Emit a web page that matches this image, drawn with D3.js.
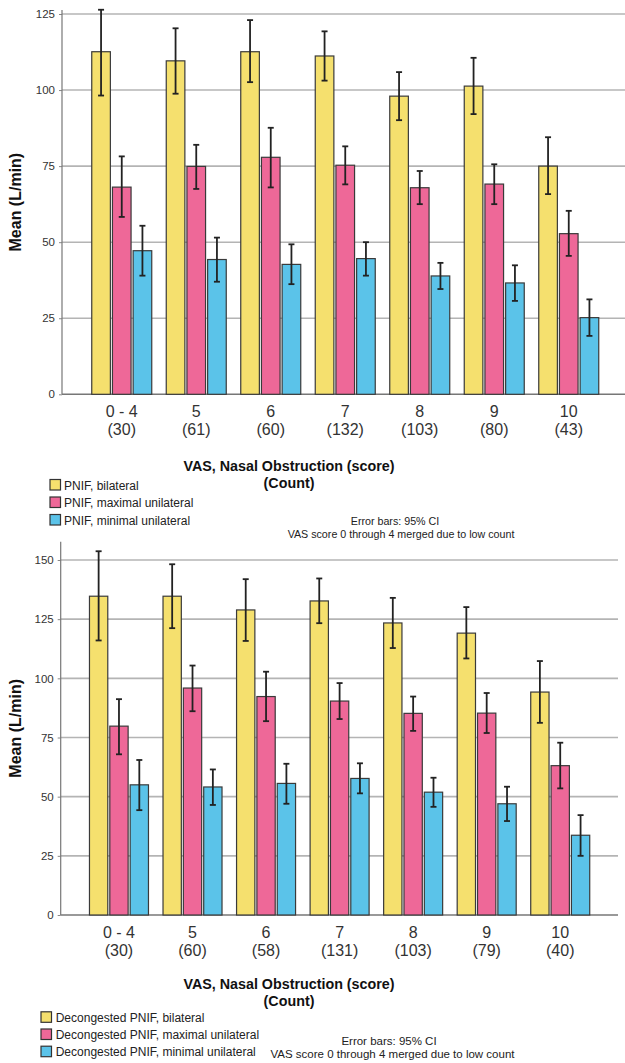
<!DOCTYPE html>
<html>
<head>
<meta charset="utf-8">
<script src="https://cdn.jsdelivr.net/npm/d3@7"></script>
<style>
  body { margin: 0; background: #fff; }
  svg { font-family: "Liberation Sans", Arial, sans-serif; display: block; }
</style>
</head>
<body>
<div id="canvas"></div>
<script>
// categories and counts
var categories = ["0 - 4", "5", "6", "7", "8", "9", "10"];
var countsPnif = [30, 61, 60, 132, 103, 80, 43];
var countsDecon = [30, 60, 58, 131, 103, 79, 40];

var seriesPnif = ["PNIF, bilateral", "PNIF, maximal unilateral", "PNIF, minimal unilateral"];
var seriesDecon = ["Decongested PNIF, bilateral", "Decongested PNIF, maximal unilateral", "Decongested PNIF, minimal unilateral"];

// top chart: means and 95% CI
var pnifBilateral   = [112.6, 109.6, 112.6, 111.2, 98.0, 101.3, 75.0];
var pnifBilateralLo = [98.2, 98.8, 102.6, 103.1, 90.1, 92.1, 65.8];
var pnifBilateralHi = [126.4, 120.3, 123.0, 119.3, 105.9, 110.6, 84.5];
var pnifMaximal     = [68.1, 74.9, 77.9, 75.3, 67.9, 69.1, 52.8];
var pnifMaximalLo   = [58.3, 67.5, 68.0, 69.0, 62.5, 62.5, 45.5];
var pnifMaximalHi   = [78.2, 82.0, 87.6, 81.5, 73.4, 75.6, 60.3];
var pnifMinimal     = [47.2, 44.3, 42.7, 44.6, 38.9, 36.6, 25.2];
var pnifMinimalLo   = [39.0, 37.0, 36.2, 39.0, 34.6, 30.7, 19.2];
var pnifMinimalHi   = [55.4, 51.5, 49.3, 50.0, 43.2, 42.4, 31.2];

// bottom chart: means and 95% CI
var deconBilateral   = [134.7, 134.7, 128.9, 132.7, 123.4, 119.1, 94.2];
var deconBilateralLo = [116.0, 121.2, 115.8, 123.3, 112.8, 108.4, 81.2];
var deconBilateralHi = [153.7, 148.2, 141.9, 142.2, 134.0, 130.1, 107.3];
var deconMaximal     = [79.8, 95.9, 92.3, 90.4, 85.2, 85.3, 63.1];
var deconMaximalLo   = [67.9, 86.1, 81.9, 82.8, 77.8, 76.9, 53.5];
var deconMaximalHi   = [91.2, 105.4, 102.8, 98.0, 92.3, 93.8, 72.8];
var deconMinimal     = [55.0, 54.1, 55.6, 57.7, 51.9, 47.0, 33.7];
var deconMinimalLo   = [44.3, 46.5, 47.0, 51.4, 45.7, 39.7, 25.0];
var deconMinimalHi   = [65.5, 61.5, 63.9, 64.1, 58.0, 54.2, 42.2];

var yTicksPnif = [0, 25, 50, 75, 100, 125];
var yTicksDecon = [0, 25, 50, 75, 100, 125, 150];

var colors = ["#f5e06e", "#ee6898", "#5bc3e9"];

var svg = d3.select("#canvas").append("svg")
    .attr("width", 625)
    .attr("height", 1063);

function buildChart(cfg) {
  var g = svg.append("g");

  var y = d3.scaleLinear()
      .domain([0, d3.max(cfg.ticks)])
      .range([cfg.base, cfg.topTick]);

  var x0 = d3.scaleBand()
      .domain(categories)
      .range([cfg.bandStart, cfg.bandEnd]);

  var x1 = d3.scaleBand()
      .domain([0, 1, 2])
      .range([0, cfg.groupWidth])
      .paddingInner(0.1);

  var off = (x0.bandwidth() - cfg.groupWidth) / 2;

  // gridlines
  g.selectAll("line.grid")
      .data(cfg.ticks.filter(function(t) { return t > 0; }))
    .enter().append("line")
      .attr("class", "grid")
      .attr("x1", cfg.axisX)
      .attr("x2", cfg.gridRight)
      .attr("y1", function(d) { return y(d); })
      .attr("y2", function(d) { return y(d); })
      .attr("stroke", "#b4b4b4")
      .attr("stroke-width", 1.6);

  // y axis
  var yAxis = d3.axisLeft(y)
      .tickValues(cfg.ticks)
      .tickSize(3)
      .tickPadding(4)
      .tickFormat(d3.format("d"));

  var ax = g.append("g")
      .attr("transform", "translate(" + cfg.axisX + ",0)")
      .call(yAxis);
  ax.select(".domain").remove();
  ax.selectAll(".tick line").attr("stroke", "#888");
  ax.selectAll(".tick text")
      .attr("fill", "#333")
      .style("font-size", "11.5px")
      .style("font-family", "'Liberation Sans', Arial, sans-serif");

  // axis lines
  g.append("line")
      .attr("x1", cfg.axisX).attr("x2", cfg.axisX)
      .attr("y1", cfg.axisTop).attr("y2", cfg.base)
      .attr("stroke", "#777").attr("stroke-width", 1.2);
  g.append("line")
      .attr("x1", cfg.axisX).attr("x2", cfg.gridRight)
      .attr("y1", cfg.base).attr("y2", cfg.base)
      .attr("stroke", "#777").attr("stroke-width", 1.4);

  // bars
  var rows = [];
  categories.forEach(function(c, i) {
    cfg.means.forEach(function(m, s) {
      rows.push({cat: c, s: s, mean: m[i], lo: cfg.lo[s][i], hi: cfg.hi[s][i]});
    });
  });

  var bar = g.selectAll("g.bar")
      .data(rows)
    .enter().append("g")
      .attr("class", "bar")
      .attr("transform", function(d) { return "translate(" + (x0(d.cat) + off + x1(d.s)) + ",0)"; });

  bar.append("rect")
      .attr("y", function(d) { return y(d.mean); })
      .attr("width", x1.bandwidth())
      .attr("height", function(d) { return y(0) - y(d.mean); })
      .attr("fill", function(d) { return colors[d.s]; })
      .attr("stroke", "#3a3a3a")
      .attr("stroke-width", 1.2);

  var cx = x1.bandwidth() / 2;
  bar.append("line")
      .attr("x1", cx).attr("x2", cx)
      .attr("y1", function(d) { return y(d.hi); })
      .attr("y2", function(d) { return y(d.lo); })
      .attr("stroke", "#222").attr("stroke-width", 1.8);
  bar.append("line")
      .attr("x1", cx - 3).attr("x2", cx + 3)
      .attr("y1", function(d) { return y(d.hi); })
      .attr("y2", function(d) { return y(d.hi); })
      .attr("stroke", "#222").attr("stroke-width", 1.8);
  bar.append("line")
      .attr("x1", cx - 3).attr("x2", cx + 3)
      .attr("y1", function(d) { return y(d.lo); })
      .attr("y2", function(d) { return y(d.lo); })
      .attr("stroke", "#222").attr("stroke-width", 1.8);

  // x tick labels
  var xl = g.selectAll("text.xlab")
      .data(categories)
    .enter().append("text")
      .attr("class", "xlab")
      .attr("text-anchor", "middle")
      .attr("fill", "#333")
      .style("font-size", "16px");
  xl.append("tspan")
      .attr("x", function(d) { return x0(d) + x0.bandwidth() / 2; })
      .attr("y", cfg.base + 23)
      .text(function(d) { return d; });
  xl.append("tspan")
      .attr("x", function(d) { return x0(d) + x0.bandwidth() / 2; })
      .attr("y", cfg.base + 41)
      .text(function(d, i) { return "(" + cfg.counts[i] + ")"; });

  // axis titles
  g.append("text")
      .attr("transform", "translate(" + 21 + "," + ((cfg.axisTop + cfg.base) / 2) + ") rotate(-90)")
      .attr("text-anchor", "middle")
      .attr("fill", "#111")
      .style("font-size", "16px")
      .style("font-weight", "bold")
      .text("Mean (L/min)");

  var xt = g.append("text")
      .attr("text-anchor", "middle")
      .attr("fill", "#111")
      .style("font-size", "14.3px")
      .style("font-weight", "bold");
  xt.append("tspan").attr("x", 289).attr("y", cfg.titleY).text("VAS, Nasal Obstruction (score)");
  xt.append("tspan").attr("x", 289).attr("y", cfg.titleY + 17).text("(Count)");

  // legend
  var leg = g.selectAll("g.leg")
      .data(cfg.names)
    .enter().append("g")
      .attr("class", "leg")
      .attr("transform", function(d, i) { return "translate(" + cfg.legX + "," + (cfg.legY + i * cfg.legStep) + ")"; });
  leg.append("rect")
      .attr("x", 0).attr("y", -5.5)
      .attr("width", 10.5).attr("height", 10.5)
      .attr("fill", function(d, i) { return colors[i]; })
      .attr("stroke", "#333")
      .attr("stroke-width", 1.2);
  leg.append("text")
      .attr("x", cfg.legTextX)
      .attr("y", 4.5)
      .attr("fill", "#222")
      .style("font-size", "12px")
      .text(function(d) { return d; });

  // notes
  g.append("text")
      .attr("x", cfg.note1X).attr("y", cfg.noteY)
      .attr("text-anchor", "middle")
      .attr("fill", "#222")
      .style("font-size", cfg.noteSize)
      .text("Error bars: 95% CI");
  g.append("text")
      .attr("x", cfg.note2X).attr("y", cfg.noteY + 13)
      .attr("text-anchor", "middle")
      .attr("fill", "#222")
      .style("font-size", cfg.noteSize)
      .text("VAS score 0 through 4 merged due to low count");
}

buildChart({
  ticks: yTicksPnif, base: 394.3, topTick: 14, axisTop: 10, axisX: 62,
  bandStart: 84.5, bandEnd: 606, groupWidth: 60, gridRight: 625,
  means: [pnifBilateral, pnifMaximal, pnifMinimal],
  lo: [pnifBilateralLo, pnifMaximalLo, pnifMinimalLo],
  hi: [pnifBilateralHi, pnifMaximalHi, pnifMinimalHi],
  counts: countsPnif, names: seriesPnif,
  titleY: 471, legX: 50, legTextX: 14, legY: 485, legStep: 17.5,
  note1X: 395, note2X: 401, noteY: 525, noteSize: "10.7px"
});

buildChart({
  ticks: yTicksDecon, base: 915, topTick: 560, axisTop: 541.7, axisX: 60.7,
  bandStart: 82.2, bandEnd: 597, groupWidth: 59, gridRight: 618,
  means: [deconBilateral, deconMaximal, deconMinimal],
  lo: [deconBilateralLo, deconMaximalLo, deconMinimalLo],
  hi: [deconBilateralHi, deconMaximalHi, deconMinimalHi],
  counts: countsDecon, names: seriesDecon,
  titleY: 988.5, legX: 41, legTextX: 14.7, legY: 1017.3, legStep: 17.2,
  note1X: 389, note2X: 392.5, noteY: 1045, noteSize: "11.5px"
});
</script>
</body>
</html>
